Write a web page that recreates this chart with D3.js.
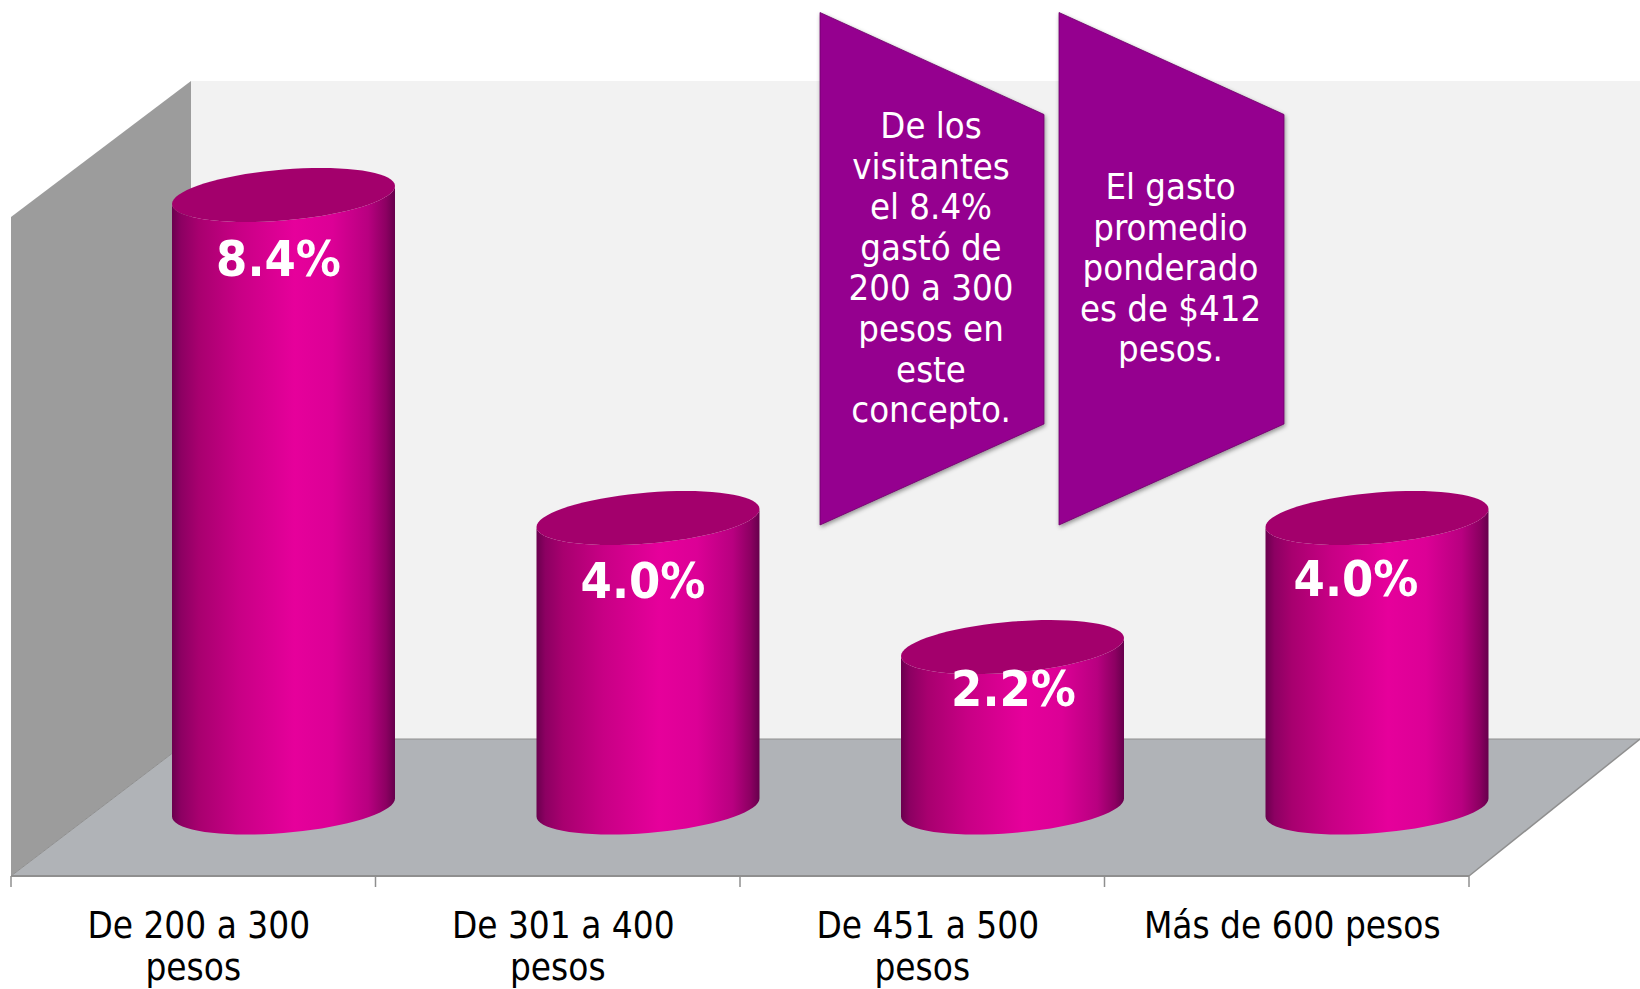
<!DOCTYPE html>
<html><head><meta charset="utf-8">
<style>html,body{margin:0;padding:0;background:#fff}svg{display:block}
text{font-family:"DejaVu Sans";font-stretch:condensed}</style>
<script src="https://cdn.jsdelivr.net/npm/d3@7/dist/d3.min.js"></script></head>
<body><svg id="c" width="1640" height="989"></svg>
<script>
const categories = ["De 200 a 300 pesos","De 301 a 400 pesos","De 451 a 500 pesos","Más de 600 pesos"];
const categoryLines = [["De 200 a 300","pesos"],["De 301 a 400","pesos"],["De 451 a 500","pesos"],["Más de 600 pesos"]];
const values = [8.4,3.97,2.2,3.97];
const valueLabels = ["8.4%","4.0%","2.2%","4.0%"];
const callouts = [
  ["De los","visitantes","el 8.4%","gastó de","200 a 300","pesos en","este","concepto."],
  ["El gasto","promedio","ponderado","es de $412","pesos."]
];

const svg = d3.select("#c");
const W=1640;
const x = d3.scaleBand().domain(categories).range([11,1469]).paddingInner(0).paddingOuter(0);
const y = d3.scaleLinear().domain([0,8.4]).range([807.5,195]);
const frontY=876, backY=739, topBackY=81, leftTopY=217, depthX=180;

const defs = svg.append("defs");
const g = defs.append("linearGradient").attr("id","cyl");
[[0,"#6a004e"],[0.04,"#8c0062"],[0.12,"#a8006f"],[0.3,"#c80085"],[0.55,"#e6009b"],[0.72,"#dc0096"],[0.88,"#b80080"],[0.96,"#8c0062"],[1,"#66004c"]]
  .forEach(s=>g.append("stop").attr("offset",s[0]).attr("stop-color",s[1]));
const f = defs.append("filter").attr("id","sh").attr("x","-10%").attr("y","-10%").attr("width","120%").attr("height","120%");
f.append("feDropShadow").attr("dx",1).attr("dy",2).attr("stdDeviation",2).attr("flood-color","#000").attr("flood-opacity",0.4);

// walls
svg.append("polygon").attr("points",[[11+depthX,topBackY],[W,topBackY],[W,backY],[11+depthX,backY]].join(" ")).attr("fill","#f2f2f2");
svg.append("polygon").attr("points",[[11,leftTopY],[11+depthX,topBackY],[11+depthX,backY],[11,frontY]].join(" ")).attr("fill","#9c9c9c");
svg.append("polygon").attr("points",[[11,frontY],[11+depthX,backY],[W,backY],[1469,frontY]].join(" ")).attr("fill","#b0b3b7");
const lineCol="#8f8f8f";
const ln=(a,b,c,d,w)=>svg.append("line").attr("x1",a).attr("y1",b).attr("x2",c).attr("y2",d).attr("stroke",lineCol).attr("stroke-width",w);
ln(11,frontY,1469,frontY,2);
ln(1469,frontY,W,backY,1.5);
ln(11+depthX,backY,W,backY,1.2);
ln(11,frontY,11+depthX,backY,1);
// axis ticks
const ticks = categories.map(c=>x(c)).concat([x.range()[1]]);
ticks.forEach(t=>ln(t,frontY,t,887,1.5));

// cylinders
const bw=223, tilt=9, ry=25.5, bodyOff=161;
function ell(cx,cy){
  const p=d3.path(); const n=72;
  for(let i=0;i<=n;i++){const t=i/n*2*Math.PI;
    const px=cx+bw/2*Math.cos(t), py=cy-tilt*Math.cos(t)+ry*Math.sin(t);
    i?p.lineTo(px,py):p.moveTo(px,py);}
  p.closePath();return p.toString();
}
function body(cx,topY,botY){
  const p=d3.path(); const n=36;
  p.moveTo(cx-bw/2,topY+tilt);
  p.lineTo(cx-bw/2,botY+tilt);
  for(let i=0;i<=n;i++){const t=Math.PI-i/n*Math.PI;
    p.lineTo(cx+bw/2*Math.cos(t),botY-tilt*Math.cos(t)+ry*Math.sin(t));}
  p.lineTo(cx+bw/2,topY-tilt);
  for(let i=0;i<=n;i++){const t=i/n*Math.PI;
    p.lineTo(cx+bw/2*Math.cos(t),topY-tilt*Math.cos(t)+ry*Math.sin(t));}
  p.closePath();return p.toString();
}
const cx=c=>x(c)+bodyOff+111.5;
const labelDX=[-5,-5,1,-21], labelDY=[81,80,59,78];
categories.forEach((c,i)=>{
  const topY=y(values[i]), botY=y(0), X=cx(c);
  svg.append("path").attr("d",body(X,topY,botY)).attr("fill","url(#cyl)");
  svg.append("path").attr("d",ell(X,topY)).attr("fill","#a3006c");
  svg.append("text").attr("x",X+labelDX[i]).attr("y",topY+labelDY[i]).attr("text-anchor","middle")
    .attr("font-size",50).attr("font-weight","bold").attr("fill","#fff").text(valueLabels[i]);
});

// category labels
categories.forEach((c,i)=>{
  const t=svg.append("text").attr("text-anchor","middle").attr("font-size",36.6).attr("fill","#000");
  categoryLines[i].forEach((l,j)=>t.append("tspan")
    .attr("x",x(c)+x.bandwidth()/2+(j?0:5.5)).attr("y",j?980:938).text(l));
});

// callouts
const shapes=[{x0:820,x1:1044},{x0:1059,x1:1284}];
const starts=[138,199];
shapes.forEach((s,k)=>{
  svg.append("polygon").attr("points",[[s.x0,12.5],[s.x1,114.5],[s.x1,424],[s.x0,525]].join(" "))
    .attr("fill","#95008f").attr("stroke","#6d0068").attr("stroke-width",0.8).attr("filter","url(#sh)");
  const t=svg.append("text").attr("text-anchor","middle").attr("font-size",36.2).attr("fill","#fff");
  callouts[k].forEach((l,j)=>t.append("tspan").attr("x",(s.x0+s.x1)/2-1).attr("y",starts[k]+j*40.6).text(l));
});
</script></body></html>
